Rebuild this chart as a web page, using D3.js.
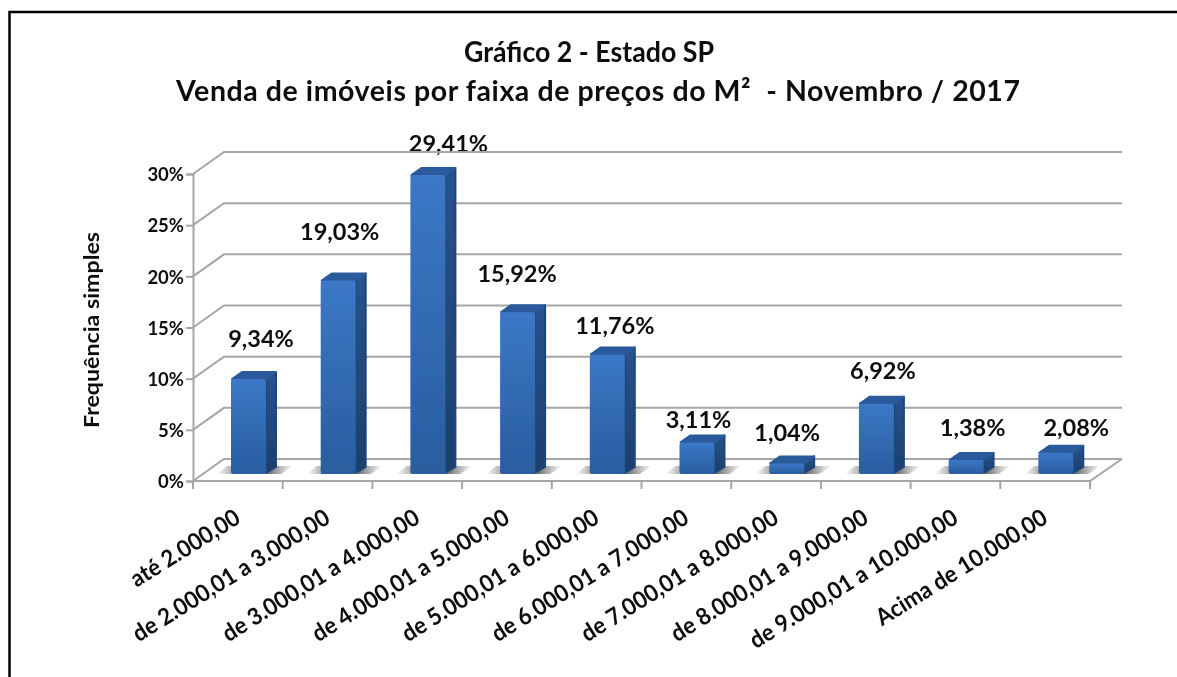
<!DOCTYPE html>
<html>
<head>
<meta charset="utf-8">
<script src="https://cdnjs.cloudflare.com/ajax/libs/d3/7.8.5/d3.min.js"></script>
<style>
  html, body { margin: 0; padding: 0; background: #fff; }
  svg { display: block; }
  text { font-family: Lato, "Open Sans", sans-serif; fill: #111; }
</style>
</head>
<body>
<svg id="chart" width="1177" height="677"></svg>
<script>
var categories = ["até 2.000,00", "de 2.000,01 a 3.000,00", "de 3.000,01 a 4.000,00", "de 4.000,01 a 5.000,00",
  "de 5.000,01 a 6.000,00", "de 6.000,01 a 7.000,00", "de 7.000,01 a 8.000,00", "de 8.000,01 a 9.000,00",
  "de 9.000,01 a 10.000,00", "Acima de 10.000,00"];
var values = [9.34, 19.03, 29.41, 15.92, 11.76, 3.11, 1.04, 6.92, 1.38, 2.08];
var valueLabels = ["9,34%", "19,03%", "29,41%", "15,92%", "11,76%", "3,11%", "1,04%", "6,92%", "1,38%", "2,08%"];
var yTicks = [0, 5, 10, 15, 20, 25, 30];
var titleLines = ["Gráfico 2 - Estado SP", "Venda de imóveis por faixa de preços do M²  - Novembro / 2017"];
var yTitle = "Frequência simples";

var svg = d3.select("#chart");
var gridColor = "#a6a6a6";

// front plane of the 3d box
var x = d3.scaleBand().domain(categories).range([193, 1090]);
var y = d3.scaleLinear().domain([0, 30]).range([481, 174]);
// bars stand further back on the floor
var yBar = d3.scaleLinear().domain([0, 30]).range([474, 169]);

var wallDx = 31, wallDy = -22;
var barPad = 38, barWidth = 35, barDepth = 11, barRise = 8;

// the labels were dragged by hand in the original, so these are offsets from the bar
var labelDx = [68, 57, 76, 55, 63, 57, 56, 62, 62, 76];
var labelDy = [-38, -46, -28, -36, -27, -21, -29, -31, -31, -24];

var defs = svg.append("defs");

var front = defs.append("linearGradient").attr("id", "barFront")
  .attr("x1", 0).attr("y1", 0).attr("x2", 0).attr("y2", 1);
front.append("stop").attr("offset", "0%").attr("stop-color", "#3b78c6");
front.append("stop").attr("offset", "100%").attr("stop-color", "#295d9f");

var side = defs.append("linearGradient").attr("id", "barSide")
  .attr("x1", 0).attr("y1", 0).attr("x2", 0).attr("y2", 1);
side.append("stop").attr("offset", "0%").attr("stop-color", "#27538d");
side.append("stop").attr("offset", "100%").attr("stop-color", "#1d3f6c");

var shadow = defs.append("linearGradient").attr("id", "barShadow")
  .attr("x1", 0).attr("y1", 0).attr("x2", 1).attr("y2", 0);
shadow.append("stop").attr("offset", "0%").attr("stop-color", "#777").attr("stop-opacity", 0);
shadow.append("stop").attr("offset", "28%").attr("stop-color", "#777").attr("stop-opacity", 0.85);
shadow.append("stop").attr("offset", "70%").attr("stop-color", "#666").attr("stop-opacity", 0.9);
shadow.append("stop").attr("offset", "100%").attr("stop-color", "#777").attr("stop-opacity", 0);

var soft = defs.append("filter").attr("id", "soft");
soft.append("feGaussianBlur").attr("stdDeviation", 0.45);

// outer frame, open on the right
svg.append("path")
  .attr("d", "M9.5,677V12H1177")
  .attr("fill", "none").attr("stroke", "#000").attr("stroke-width", 2.5);

var textLayer = svg.append("g").attr("filter", "url(#soft)");

// title
textLayer.selectAll(".title").data(titleLines).enter().append("text")
  .attr("class", "title")
  .attr("x", function(d, i) { return i == 0 ? 589 : 598; })
  .attr("y", function(d, i) { return i == 0 ? 62 : 101; })
  .attr("text-anchor", "middle")
  .attr("font-size", 28.5)
  .attr("font-weight", 700)
  .attr("textLength", function(d, i) { return i == 0 ? 250 : 844; })
  .attr("lengthAdjust", function(d, i) { return i == 0 ? "spacingAndGlyphs" : "spacing"; })
  .attr("xml:space", "preserve")
  .text(function(d) { return d; });

var plot = svg.append("g").attr("filter", "url(#soft)");

// wall gridlines
yTicks.forEach(function(t) {
  plot.append("path")
    .attr("d", d3.line()([
      [x.range()[0], y(t)],
      [x.range()[0] + wallDx, y(t) + wallDy],
      [x.range()[1] + wallDx + 1, y(t) + wallDy]
    ]))
    .attr("fill", "none").attr("stroke", gridColor).attr("stroke-width", 2);
});

// floor
plot.append("path")
  .attr("d", d3.line()([
    [x.range()[0], y(0)],
    [x.range()[1], y(0)],
    [x.range()[1] + wallDx + 1, y(0) + wallDy]
  ]))
  .attr("fill", "none").attr("stroke", gridColor).attr("stroke-width", 2);

// axes
var yAxis = d3.axisLeft(y).tickValues(yTicks).tickSize(7).tickFormat(function(d) { return d + "%"; });

plot.selectAll(".band").data(d3.range(categories.length + 1)).enter().append("line")
  .attr("class", "band")
  .attr("x1", function(i) { return x.range()[0] + x.step() * i; })
  .attr("x2", function(i) { return x.range()[0] + x.step() * i; })
  .attr("y1", y(0)).attr("y2", y(0) + 8)
  .attr("stroke", gridColor).attr("stroke-width", 2);

var yg = plot.append("g").attr("transform", "translate(" + x.range()[0] + ",0)").call(yAxis);
yg.select(".domain").attr("stroke", gridColor).attr("stroke-width", 2);
yg.selectAll(".tick line").attr("stroke", gridColor).attr("stroke-width", 2);
yg.selectAll(".tick text")
  .attr("x", -9).attr("dy", "0.36em")
  .attr("font-size", 18.5).attr("font-weight", 700)
  .style("font-family", "Lato").style("fill", "#111");

// bars
var bars = plot.selectAll(".bar").data(values).enter().append("g").attr("class", "bar")
  .attr("transform", function(d, i) { return "translate(" + (x(categories[i]) + barPad) + ",0)"; });

bars.append("path")
  .attr("d", d3.line()([[-14, yBar(0)], [50, yBar(0)], [62, yBar(0) - 8], [-4, yBar(0) - 8]]) + "Z")
  .attr("fill", "url(#barShadow)");

bars.append("path")
  .attr("d", function(d) {
    return d3.line()([[barWidth, yBar(d)], [barWidth + barDepth - 1, yBar(d) - barRise + 1],
      [barWidth + barDepth - 1, yBar(0) - barRise + 1], [barWidth, yBar(0) - 1]]) + "Z";
  })
  .attr("fill", "url(#barSide)").attr("stroke", "#1f4679").attr("stroke-width", 2).attr("stroke-linejoin", "round");

bars.append("path")
  .attr("d", function(d) {
    var b = yBar(d);
    return d3.line()([[1, b], [barDepth, b - barRise + 1], [barWidth + barDepth - 1, b - barRise + 1], [barWidth, b]]) + "Z";
  })
  .attr("fill", "#2a5a9b").attr("stroke", "#2a5a9b").attr("stroke-width", 2).attr("stroke-linejoin", "round");

bars.append("rect")
  .attr("x", 0).attr("width", barWidth)
  .attr("y", function(d) { return yBar(d); })
  .attr("height", function(d) { return yBar(0) - yBar(d); })
  .attr("rx", 2.5)
  .attr("fill", "url(#barFront)");

// value labels
textLayer.selectAll(".value").data(values).enter().append("text")
  .attr("class", "value")
  .attr("x", function(d, i) { return x(categories[i]) + labelDx[i]; })
  .attr("y", function(d, i) { return y(d) + labelDy[i]; })
  .attr("text-anchor", "middle")
  .attr("font-size", 23.5)
  .attr("font-weight", 700)
  .text(function(d, i) { return valueLabels[i]; });

// category labels
textLayer.selectAll(".cat").data(categories).enter().append("text")
  .attr("class", "cat")
  .attr("text-anchor", "end")
  .attr("font-size", 23.5)
  .attr("font-weight", 700)
  .attr("transform", function(d) {
    return "translate(" + (x(d) + 49) + ",522) rotate(-32) scale(0.945,1)";
  })
  .text(function(d) { return d; });

// y title
textLayer.append("text")
  .attr("transform", "translate(99,330) rotate(-90)")
  .attr("text-anchor", "middle")
  .attr("font-size", 21)
  .attr("font-weight", 700)
  .attr("textLength", 196)
  .attr("lengthAdjust", "spacingAndGlyphs")
  .text(yTitle);
</script>
</body>
</html>
